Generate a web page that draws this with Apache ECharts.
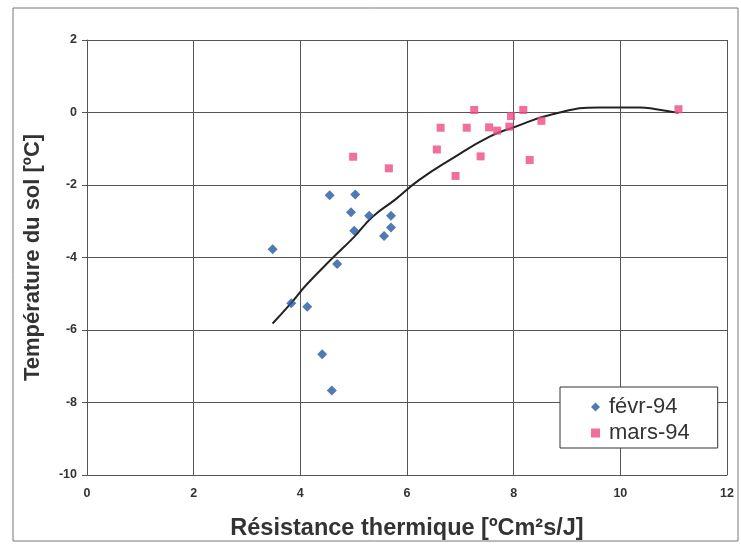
<!DOCTYPE html>
<html>
<head>
<meta charset="utf-8">
<script src="https://cdn.jsdelivr.net/npm/echarts@6/dist/echarts.min.js"></script>
<style>html,body{margin:0;padding:0;background:#fff}#c{width:741px;height:546px}</style>
</head>
<body>
<div id="c"></div>
<script>
var febData = [
  [4.55,-2.28],[5.03,-2.26],[4.95,-2.75],[5.29,-2.85],[5.70,-2.85],[5.70,-3.17],
  [5.01,-3.26],[5.57,-3.41],[3.48,-3.77],[4.69,-4.18],[3.83,-5.26],[4.13,-5.36],
  [4.41,-6.67],[4.59,-7.67]
];
var marData = [
  [4.99,-1.22],[5.66,-1.54],[6.56,-1.02],[6.91,-1.75],[6.63,-0.42],[7.12,-0.42],
  [7.26,0.07],[7.38,-1.21],[7.54,-0.41],[7.69,-0.50],[7.92,-0.39],[7.95,-0.10],
  [8.18,0.07],[8.30,-1.31],[8.52,-0.23],[11.09,0.09]
];
var trendData = [
  [3.48,-5.82],[3.83,-5.25],[4.11,-4.76],[4.58,-4.05],[5.01,-3.43],[5.36,-2.87],
  [5.79,-2.39],[6.23,-1.86],[6.86,-1.26],[7.54,-0.67],[7.98,-0.42],[8.73,-0.05],
  [9.61,0.14],[10.36,0.14],[10.67,0.09],[11.09,-0.01]
];
var seriesNames = ['févr-94','mars-94'];
var xTitle = 'Résistance thermique [ºCm²s/J]';
var yTitle = 'Température du sol [ºC]';

var chart = echarts.init(document.getElementById('c'), null, {renderer:'canvas'});
var FF = 'Liberation Sans, Arial, sans-serif';
var labelStyle = {color:'#333', fontFamily:FF, fontSize:12.5, fontWeight:'bold'};
chart.setOption({
  backgroundColor:'#fff',
  animation:false,
  graphic:[{type:'rect', shape:{x:13, y:8, width:725, height:533}, style:{fill:'none', stroke:'#777', lineWidth:1}, silent:true}],
  grid:{left:87, top:40, width:640, height:435},
  xAxis:{
    type:'value', min:0, max:12, interval:2,
    name:xTitle, nameLocation:'middle', nameGap:42,
    nameTextStyle:{color:'#333', fontFamily:FF, fontSize:23.5, fontWeight:'bold'},
    axisLine:{show:true, onZero:false, lineStyle:{color:'#555', width:1}},
    axisTick:{show:false},
    axisLabel:Object.assign({margin:12}, labelStyle),
    splitLine:{show:true, lineStyle:{color:'#555', width:1}}
  },
  yAxis:{
    type:'value', min:-10, max:2, interval:2,
    name:yTitle, nameLocation:'middle', nameGap:43, nameRotate:90,
    nameTextStyle:{color:'#333', fontFamily:FF, fontSize:22, fontWeight:'bold'},
    axisLine:{show:true, onZero:false, lineStyle:{color:'#555', width:1}},
    axisTick:{show:true, length:5, lineStyle:{color:'#555'}},
    axisLabel:Object.assign({margin:10}, labelStyle),
    splitLine:{show:true, lineStyle:{color:'#555', width:1}}
  },
  legend:{
    data:seriesNames, orient:'vertical', left:560, top:387,
    backgroundColor:'#fff', borderColor:'#333', borderWidth:1,
    padding:[9,28,4,31], itemGap:4, itemWidth:9, itemHeight:9,
    textStyle:{color:'#333', fontFamily:FF, fontSize:22, padding:[0,0,0,4]}
  },
  series:[
    {name:'trend', type:'line', data:trendData, smooth:true, showSymbol:false, symbol:'none',
     lineStyle:{color:'#222', width:2}, z:3, silent:true},
    {name:seriesNames[0], type:'scatter', data:febData, symbol:'diamond', symbolSize:10,
     itemStyle:{color:'#2459a0'}, z:4},
    {name:seriesNames[1], type:'scatter', data:marData, symbol:'rect', symbolSize:8,
     itemStyle:{color:'#ee4a86'}, z:4}
  ]
});
</script>
</body>
</html>
